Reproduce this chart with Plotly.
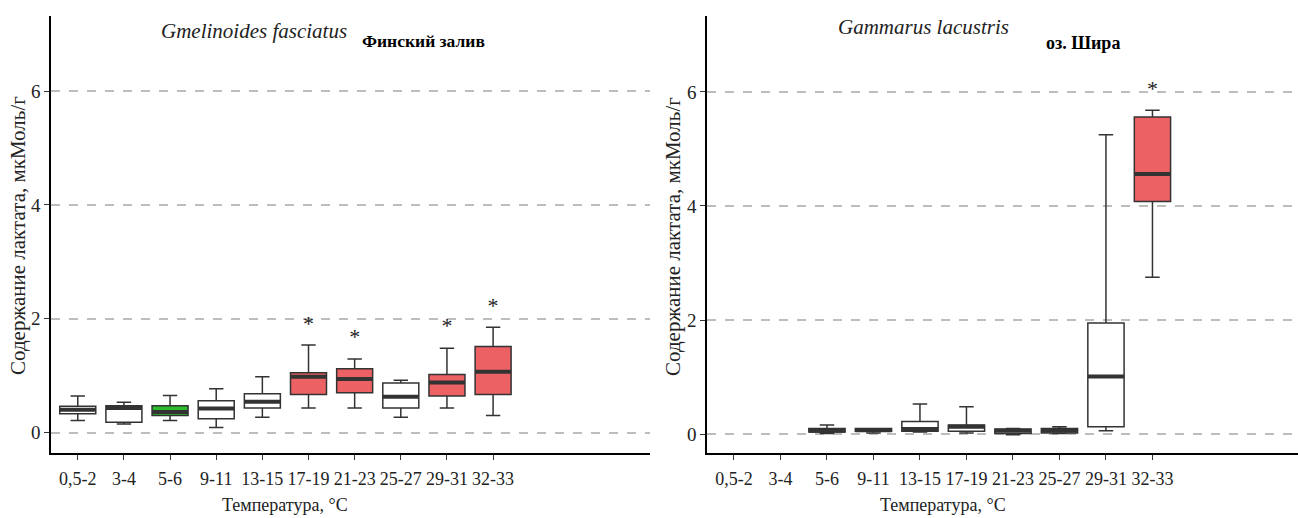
import plotly.graph_objects as go

categories = ["0,5-2", "3-4", "5-6", "9-11", "13-15", "17-19", "21-23", "25-27", "29-31", "32-33"]
y_ticks = [0, 2, 4, 6]

# Left panel: Gmelinoides fasciatus (Финский залив)
gf_low = [0.21, 0.15, 0.21, 0.09, 0.27, 0.43, 0.43, 0.27, 0.43, 0.30]
gf_q1 = [0.33, 0.18, 0.30, 0.24, 0.43, 0.67, 0.70, 0.43, 0.64, 0.67]
gf_med = [0.40, 0.43, 0.36, 0.42, 0.54, 0.98, 0.94, 0.63, 0.88, 1.07]
gf_q3 = [0.46, 0.47, 0.47, 0.56, 0.68, 1.05, 1.12, 0.87, 1.02, 1.51]
gf_high = [0.64, 0.53, 0.65, 0.77, 0.98, 1.54, 1.29, 0.92, 1.48, 1.85]
gf_group = ["ctrl", "ctrl", "base", "ctrl", "ctrl", "sig", "sig", "ctrl", "sig", "sig"]
gf_star = [None, None, None, None, None, 1.88, 1.66, None, 1.84, 2.20]

# Right panel: Gammarus lacustris (оз. Шира)
gl_low = [None, None, 0.01, 0.02, 0.04, 0.02, -0.01, 0.01, 0.06, 2.75]
gl_q1 = [None, None, 0.04, 0.05, 0.05, 0.05, 0.01, 0.02, 0.13, 4.08]
gl_med = [None, None, 0.06, 0.07, 0.09, 0.13, 0.06, 0.06, 1.01, 4.56]
gl_q3 = [None, None, 0.10, 0.10, 0.22, 0.16, 0.09, 0.10, 1.95, 5.56]
gl_high = [None, None, 0.16, 0.10, 0.53, 0.48, 0.10, 0.13, 5.25, 5.68]
gl_group = [None, None, "ctrl", "ctrl", "ctrl", "ctrl", "ctrl", "ctrl", "ctrl", "sig"]
gl_star = [None, None, None, None, None, None, None, None, None, 6.03]

FILL = {"ctrl": "white", "sig": "#ec6164", "base": "#2dbb2d"}
LINE = "#333333"
BOX_W = 0.78
SERIF = "Liberation Serif, Times New Roman, serif"

fig = go.Figure()


def add_panel(low, q1, med, q3, high, group, star, xa, ya):
    seg_x, seg_y = [], []
    for i, cat in enumerate(categories):
        if med[i] is None:
            continue
        fig.add_trace(go.Box(
            x=[i], q1=[q1[i]], median=[med[i]], q3=[q3[i]],
            lowerfence=[low[i]], upperfence=[high[i]],
            width=BOX_W, whiskerwidth=0.4, fillcolor=FILL[group[i]],
            line=dict(color=LINE, width=1.5), boxpoints=False,
            xaxis=xa, yaxis=ya, showlegend=False, name=cat))
        seg_x += [i - BOX_W / 2, i + BOX_W / 2, None]
        seg_y += [med[i], med[i], None]
    fig.add_trace(go.Scatter(x=seg_x, y=seg_y, mode="lines",
                             line=dict(color=LINE, width=4),
                             xaxis=xa, yaxis=ya, showlegend=False, hoverinfo="skip"))
    sx = [i for i, s in enumerate(star) if s is not None]
    sy = [s for s in star if s is not None]
    fig.add_trace(go.Scatter(x=sx, y=sy, mode="text", text=["*"] * len(sx),
                             textfont=dict(family=SERIF, size=22, color="#222222"),
                             textposition="middle center",
                             xaxis=xa, yaxis=ya, showlegend=False, hoverinfo="skip"))


add_panel(gf_low, gf_q1, gf_med, gf_q3, gf_high, gf_group, gf_star, "x", "y")
add_panel(gl_low, gl_q1, gl_med, gl_q3, gl_high, gl_group, gl_star, "x2", "y2")

W, H = 1298, 518
ydom = [1 - 453 / H, 1 - 16 / H]

xcommon = dict(tickmode="array", tickvals=list(range(len(categories))), ticktext=categories,
               showline=True, linecolor="black", linewidth=1.5, ticks="outside",
               ticklen=5, tickcolor="#333333", tickwidth=1.2, showgrid=False, zeroline=False,
               ticklabelstandoff=4,
               tickfont=dict(family=SERIF, size=18, color="#222222"))
ycommon = dict(tickmode="array", tickvals=y_ticks, ticktext=[str(v) for v in y_ticks],
               showline=True, linecolor="black", linewidth=1.5, ticks="outside",
               ticklen=5, tickcolor="#333333", tickwidth=1.2,
               showgrid=True, gridcolor="#bdbdbd", gridwidth=1.5, griddash="dash",
               zeroline=False, tickfont=dict(family=SERIF, size=19, color="#222222"),
               domain=ydom)

fig.update_layout(
    width=W, height=H, margin=dict(l=0, r=0, t=0, b=0),
    plot_bgcolor="white", paper_bgcolor="white",
    xaxis=dict(domain=[51 / W, 650 / W], range=[-0.58, 12.4], anchor="y", **xcommon),
    xaxis2=dict(domain=[707 / W, 1.0], range=[-0.58, 12.13], anchor="y2", **xcommon),
    yaxis=dict(range=[-0.36, 7.32], anchor="x", **ycommon),
    yaxis2=dict(range=[-0.33, 7.33], anchor="x2", **ycommon),
)

ytitle = "Содержание лактата, мкМоль/г"
xtitle = "Температура, °C"


def note(text, x, y, size, xref="paper", angle=0, color="#222222"):
    return dict(text=text, x=x, y=y, xref=xref, yref="paper", textangle=angle,
                xanchor="center", yanchor="middle", showarrow=False,
                font=dict(family=SERIF, size=size, color=color))


ann = [
    note(ytitle, 18 / W, 1 - 236 / H, 21, angle=-90),
    note(ytitle, 673 / W, 1 - 237 / H, 21, angle=-90),
    note(xtitle, 4.5, 1 - 505 / H, 18, xref="x"),
    note(xtitle, 4.5, 1 - 505 / H, 18, xref="x2"),
    note("<i>Gmelinoides fasciatus</i>", 254 / W, 1 - 31 / H, 21),
    note("<b>Финский залив</b>", 424 / W, 1 - 41 / H, 17.5, color="black"),
    note("<i>Gammarus lacustris</i>", 923 / W, 1 - 27 / H, 21),
    note("<b>оз. Шира</b>", 1083 / W, 1 - 43 / H, 18, color="black"),
]
fig.update_layout(annotations=ann)

fig.write_html("out.html", config={"displayModeBar": False},
               post_script="document.body.style.margin='0';document.body.style.overflow='hidden';")
